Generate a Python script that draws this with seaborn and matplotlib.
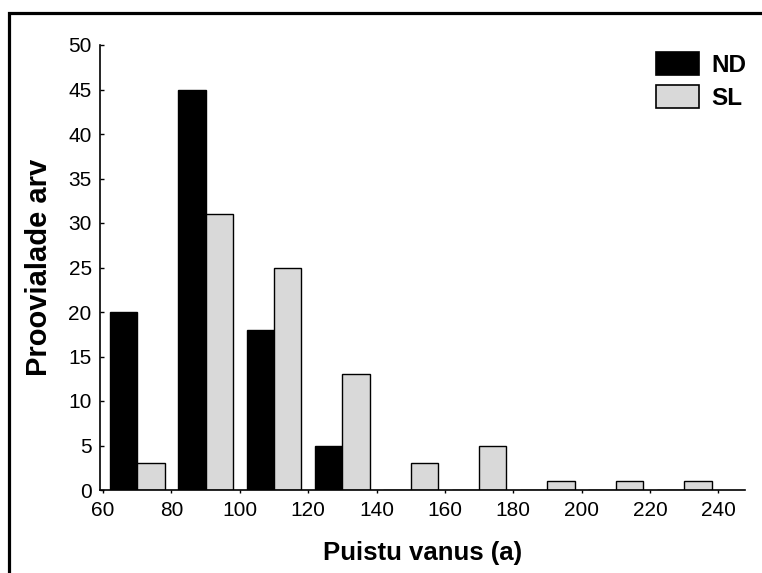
import matplotlib
matplotlib.use('Agg')  # no display
import matplotlib.pyplot as plt
from matplotlib.patches import Rectangle
import seaborn as sns
import pandas as pd

# age class centres (60-80, 80-100, ... 220-240)
age_classes = [70, 90, 110, 130, 150, 170, 190, 210, 230]
nd_counts = [20, 45, 18, 5, 0, 0, 0, 0, 0]
sl_counts = [3, 31, 25, 13, 3, 5, 1, 1, 1]
x_ticks = [60, 80, 100, 120, 140, 160, 180, 200, 220, 240]
y_ticks = [0, 5, 10, 15, 20, 25, 30, 35, 40, 45, 50]

df = pd.DataFrame({
    "vanus": age_classes * 2,
    "arv": nd_counts + sl_counts,
    "grupp": ["ND"] * len(nd_counts) + ["SL"] * len(sl_counts),
})

sns.set_style("ticks")
plt.rcParams['font.family'] = ['Liberation Sans', 'DejaVu Sans']
for k in ('text.color', 'axes.labelcolor', 'xtick.color', 'ytick.color'):
    plt.rcParams[k] = 'black'

fig = plt.figure(figsize=(7.62, 5.73), dpi=100)
ax = fig.add_axes([100 / 762, 1 - 490 / 573, 645 / 762, 445 / 573])

sns.barplot(data=df, x="vanus", y="arv", hue="grupp", native_scale=True,
            width=0.8, palette={"ND": "black", "SL": "#d9d9d9"},
            saturation=1, edgecolor="black", linewidth=1.0, ax=ax)

ax.set_xlim(59.1, 247.8)
ax.set_ylim(0, 50)
ax.set_xticks(x_ticks)
ax.set_yticks(y_ticks)
ax.tick_params(axis='x', direction='out', length=2, width=1, labelsize=15, pad=6)
ax.tick_params(axis='y', direction='in', length=3, width=1, labelsize=15, pad=6)
sns.despine(ax=ax)
for s in ("left", "bottom"):
    ax.spines[s].set_linewidth(1.2)
    ax.spines[s].set_color("black")

ax.set_xlabel("Puistu vanus (a)", fontsize=18.5, fontweight='bold', labelpad=15)
ax.set_ylabel("Proovialade arv", fontsize=21, fontweight='bold', labelpad=11)

handles, labels = ax.get_legend_handles_labels()
for h in handles:
    h.set_edgecolor("black")
    h.set_linewidth(1.2)
ax.legend(handles, labels, loc='upper left', frameon=False,
          prop={'weight': 'bold', 'size': 17.5}, handlelength=1.77,
          handleheight=1.08, labelspacing=0.35, handletextpad=0.5,
          borderpad=0, borderaxespad=0,
          bbox_to_anchor=(656 / 762, 1 - 52 / 573),
          bbox_transform=fig.transFigure)

# outer frame (cut off on the right and bottom)
fig.add_artist(Rectangle((9 / 762, -0.1), 2, 1 - 13 / 573 + 0.1,
                         transform=fig.transFigure, fill=False,
                         lw=2.3, ec='black'))

fig.savefig("out.png", dpi=100)
plt.close(fig)
